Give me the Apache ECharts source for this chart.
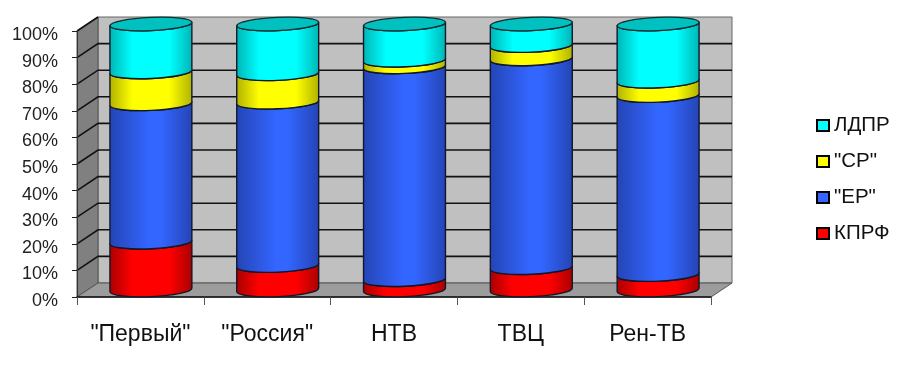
<!DOCTYPE html>
<html>
<head>
<meta charset="utf-8">
<style>
  html, body { margin: 0; padding: 0; background: #fff; }
  #chart { width: 900px; height: 371px; }
</style>
<script src="https://cdn.jsdelivr.net/npm/echarts@6/dist/echarts.min.js"></script>
</head>
<body>
<div id="chart"></div>
<script>
// data, percent of the stack
const channels = ['"Первый"', '"Россия"', 'НТВ', 'ТВЦ', 'Рен-ТВ']
const kprf = [18, 9.2, 3.9, 8.4, 5.8]
const er = [52, 61.4, 80, 78.5, 67.3]
const sr = [12, 10.7, 2.5, 5, 5.4]
const ldpr = [18, 18.7, 13.6, 8.1, 21.5]
const yTicks = [0, 10, 20, 30, 40, 50, 60, 70, 80, 90, 100]

// fake 3d box depth
const DEPTH_X = 21
const DEPTH_Y = -14
const RX = 41
const RY = 6.6
const TILT = -2.5 // degrees

const shade = (edge, mid, from, to) => ({
  type: 'linear', x: 0, y: 0, x2: 1, y2: 0,
  colorStops: [
    { offset: 0, color: edge },
    { offset: from, color: mid },
    { offset: to, color: mid },
    { offset: 1, color: edge }
  ]
})

const stacks = [
  { name: 'КПРФ', values: kprf, fill: shade('#a80000', '#ff0000', 0.28, 0.72), legend: '#ff0000' },
  { name: '"ЕР"', values: er, fill: shade('#2444b4', '#3366ff', 0.48, 0.62), legend: '#3366ff' },
  { name: '"СР"', values: sr, fill: shade('#b0b000', '#ffff00', 0.28, 0.72), legend: '#ffff00' },
  { name: 'ЛДПР', values: ldpr, fill: shade('#00b4b4', '#00ffff', 0.28, 0.72), legend: '#00ffff' }
]

// walls, floor and grid lines of the box
const renderBox = (params, api) => {
  const t = api.value(0)
  const left = api.coord([0, t])
  left[0] = params.coordSys.x
  const right = params.coordSys.x + params.coordSys.width
  const children = []
  if (params.dataIndex === 0) {
    const y0 = api.coord([0, 0])[1]
    const y100 = api.coord([0, 100])[1]
    const x0 = left[0]
    children.push({
      type: 'polygon',
      shape: { points: [[x0 + DEPTH_X, y100 + DEPTH_Y], [right + DEPTH_X, y100 + DEPTH_Y], [right + DEPTH_X, y0 + DEPTH_Y], [x0 + DEPTH_X, y0 + DEPTH_Y]] },
      style: { fill: '#c0c0c0', stroke: '#666', lineWidth: 1 }
    }, {
      type: 'polygon',
      shape: { points: [[x0, y100], [x0 + DEPTH_X, y100 + DEPTH_Y], [x0 + DEPTH_X, y0 + DEPTH_Y], [x0, y0]] },
      style: { fill: '#808080', stroke: '#555', lineWidth: 1 }
    }, {
      type: 'polygon',
      shape: { points: [[x0, y0], [x0 + DEPTH_X, y0 + DEPTH_Y], [right + DEPTH_X, y0 + DEPTH_Y], [right, y0]] },
      style: { fill: '#9c9c9c', stroke: '#555', lineWidth: 1 }
    })
  } else if (t < 100) {
    children.push({
      type: 'polyline',
      shape: { points: [[left[0], left[1]], [left[0] + DEPTH_X, left[1] + DEPTH_Y], [right + DEPTH_X, left[1] + DEPTH_Y]] },
      style: { fill: 'none', stroke: '#111', lineWidth: 1.6 }
    })
  } else {
    children.push({
      type: 'line',
      shape: { x1: left[0], y1: left[1], x2: left[0] + DEPTH_X, y2: left[1] + DEPTH_Y },
      style: { stroke: '#111', lineWidth: 1.6 }
    })
  }
  return { type: 'group', children }
}

// one cylinder slice, bottom and top come from the value axis
const makeSliceRenderer = (stackIndex) => (params, api) => {
  const cat = api.value(0)
  const from = api.value(1)
  const to = api.value(2)
  const a = api.coord([cat, from])
  const b = api.coord([cat, to])
  const cx = a[0] + DEPTH_X / 2
  const dx = RX * Math.cos(TILT * Math.PI / 180)
  const dy = RX * Math.sin(TILT * Math.PI / 180)
  const yBot = a[1] + DEPTH_Y / 2
  const yTop = b[1] + DEPTH_Y / 2
  const arc = `A ${RX} ${RY} ${TILT} 0`
  const body = `M ${cx - dx} ${yTop - dy} ${arc} 0 ${cx + dx} ${yTop + dy} L ${cx + dx} ${yBot + dy} ${arc} 1 ${cx - dx} ${yBot - dy} Z`
  const children = [{
    type: 'path',
    shape: { pathData: body },
    style: { fill: stacks[stackIndex].fill, stroke: '#10182a', lineWidth: 1.4, lineJoin: 'round' }
  }]
  if (stackIndex === stacks.length - 1) {
    const cap = `M ${cx - dx} ${yTop - dy} ${arc} 0 ${cx + dx} ${yTop + dy} ${arc} 0 ${cx - dx} ${yTop - dy} Z`
    children.push({
      type: 'path',
      shape: { pathData: cap },
      style: { fill: '#00c0c0', stroke: '#10302f', lineWidth: 1.4 }
    })
  }
  return { type: 'group', children }
}

const running = channels.map(() => 0)
const sliceSeries = stacks.map((s, si) => ({
  name: s.name,
  type: 'custom',
  z: 2 + si,
  renderItem: makeSliceRenderer(si),
  encode: { x: 0, y: [1, 2] },
  itemStyle: { color: s.legend, borderColor: '#000', borderWidth: 1.6 },
  data: s.values.map((v, i) => {
    const row = [i, running[i], running[i] + v]
    running[i] += v
    return row
  })
}))

const chart = echarts.init(document.getElementById('chart'))
chart.setOption({
  animation: false,
  textStyle: { fontFamily: '"Liberation Sans", Arial, sans-serif' },
  grid: { left: 77, right: 189, top: 31, bottom: 74 },
  legend: {
    orient: 'vertical',
    left: 811,
    top: 110,
    itemWidth: 12,
    itemHeight: 11,
    itemGap: 15,
    icon: 'rect',
    data: ['ЛДПР', '"СР"', '"ЕР"', 'КПРФ'],
    selectedMode: false,
    textStyle: { fontSize: 20.5, color: '#111' }
  },
  xAxis: {
    type: 'category',
    data: channels,
    axisLine: { lineStyle: { color: '#111', width: 1.5 } },
    axisTick: { show: true, interval: 0, length: 8, lineStyle: { color: '#555' } },
    axisLabel: { interval: 0, fontSize: 23, color: '#111', margin: 26 }
  },
  yAxis: {
    type: 'value',
    min: 0,
    max: 100,
    interval: 10,
    splitLine: { show: false },
    axisLine: { show: true, lineStyle: { color: '#333' } },
    axisTick: { show: true, length: 5, lineStyle: { color: '#222' } },
    axisLabel: { fontSize: 18, color: '#222', margin: 19, verticalAlign: 'top', lineHeight: 8, formatter: '{value}%' }
  },
  series: [{
    type: 'custom',
    name: 'box',
    z: -1,
    renderItem: renderBox,
    encode: { y: 0 },
    data: yTicks.map((t) => [t]),
    silent: true
  }].concat(sliceSeries)
})
</script>
</body>
</html>
